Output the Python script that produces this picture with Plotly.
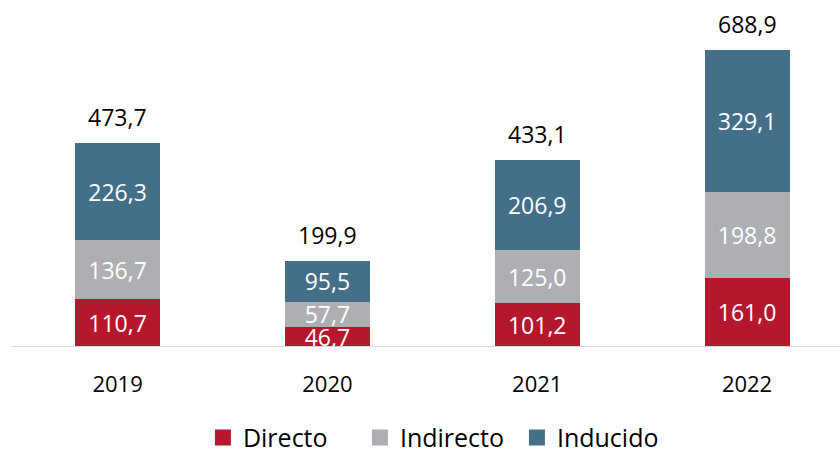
import plotly.graph_objects as go

years = ["2019", "2020", "2021", "2022"]
directo = [110.7, 46.7, 101.2, 161.0]
indirecto = [136.7, 57.7, 125.0, 198.8]
inducido = [226.3, 95.5, 206.9, 329.1]
totales = [473.7, 199.9, 433.1, 688.9]

FONT = "Open Sans"
colors = {"Directo": "#B5172F", "Indirecto": "#ADAFB2", "Inducido": "#436F89"}

def fmt(v):
    return f"{v:.1f}".replace(".", ",")

fig = go.Figure()
for name, vals in [("Directo", directo), ("Indirecto", indirecto), ("Inducido", inducido)]:
    fig.add_trace(go.Bar(
        x=years, y=vals, name=name, showlegend=False,
        marker=dict(color=colors[name], line=dict(width=0)),
        width=0.405,
        text=[fmt(v) for v in vals],
        textposition="inside", insidetextanchor="middle",
        textfont=dict(family=FONT, size=23, color="white"),
        constraintext="none",
    ))
    fig.add_trace(go.Scatter(
        x=[None], y=[None], name=name, mode="markers",
        marker=dict(symbol="square", size=16, color=colors[name]),
    ))

for i, t in enumerate(totales):
    fig.add_annotation(x=i, y=t, text=fmt(t), showarrow=False,
                       xref="x", yref="y",
                       yanchor="bottom", yshift=8,
                       font=dict(family=FONT, size=23, color="black"))

fig.update_layout(
    width=840, height=453,
    margin=dict(l=12, r=0, t=0, b=106, autoexpand=False),
    barmode="stack", bargap=0.595,
    plot_bgcolor="white", paper_bgcolor="white",
    uniformtext=dict(minsize=23, mode="show"),
    showlegend=True,
    legend=dict(orientation="h", x=0.515, xanchor="center", y=-0.195, yanchor="top",
                font=dict(family=FONT, size=25, color="black"),
                itemwidth=30, traceorder="normal",
                entrywidth=112, entrywidthmode="pixels"),
    xaxis=dict(type="category", range=[-0.503, 3.443], showgrid=False, showline=False,
               ticks="outside", ticklen=18, tickcolor="rgba(0,0,0,0)",
               tickfont=dict(family=FONT, size=22, color="black")),
    yaxis=dict(range=[0, 805.7], visible=False, showgrid=False),
)
fig.add_shape(type="line", xref="paper", yref="y", x0=0, x1=1, y0=0, y1=0,
              line=dict(color="#D9D9D9", width=2), layer="above")

fig.write_html("out.html", config={"displayModeBar": False},
               post_script="document.body.style.margin='0';document.body.style.overflow='hidden';")
